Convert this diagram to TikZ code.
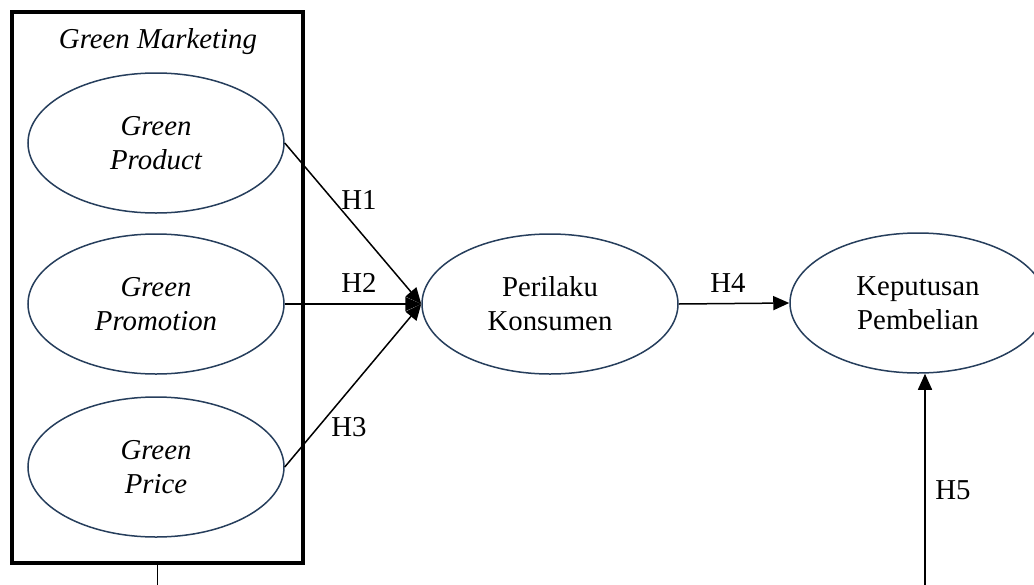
\documentclass[tikz,border=0pt]{standalone}
\usepackage{fontspec}
\setmainfont{Liberation Serif}
\usetikzlibrary{positioning, calc, arrows.meta, shapes.geometric}

\definecolor{ovalblue}{RGB}{38,62,92}

\begin{document}
\begin{tikzpicture}[
    x=0.5pt, y=-0.5pt,
    font=\fontsize{14.4}{17}\selectfont,
    construct/.style={ellipse, draw=ovalblue, line width=0.75pt, minimum width=128pt, minimum height=70pt, align=center, inner sep=0pt},
    frame/.style={rectangle, draw=black, line width=2pt, minimum width=145.5pt, minimum height=275.5pt},
    hlabel/.style={inner sep=0pt},
    arrow/.style={-{Triangle[length=8pt, width=7pt]}, line width=0.75pt}
]
    \useasboundingbox (0,0) rectangle (1034,584);

    % Green Marketing block
    \node[frame] (gm) at (157.5,287.5) {};
    \node[font=\fontsize{14.4}{17}\selectfont\itshape] (gmtitle) at (158,42) {Green Marketing};

    \node[construct, font=\fontsize{14.4}{17}\selectfont\itshape] (product) at (156,143) {Green\\Product};
    \node[construct, font=\fontsize{14.4}{17}\selectfont\itshape] (promotion) at (156,304) {Green\\Promotion};
    \node[construct, font=\fontsize{14.4}{17}\selectfont\itshape] (price) at (156,467) {Green\\Price};

    % Mediator and outcome
    \node[construct] (perilaku) at (550,304) {Perilaku\\Konsumen};
    \node[construct] (keputusan) at (918,303) {Keputusan\\Pembelian};

    % Arrows
    \draw[arrow] (product.east) -- (perilaku.west);
    \draw[arrow] (promotion.east) -- (perilaku.west);
    \draw[arrow] (price.east) -- (perilaku.west);
    \draw[arrow] (perilaku.east) -- (keputusan.west);
    \draw[arrow] (gm.south) -- ++(0,60) -| ([xshift=3.5pt]keputusan.south);

    % Labels
    \node[hlabel] (h1) at (359,200) {H1};
    \node[hlabel] (h2) at (359,283) {H2};
    \node[hlabel] (h3) at (349,427) {H3};
    \node[hlabel] (h4) at (728,283) {H4};
    \node[hlabel] (h5) at (953,490) {H5};

\end{tikzpicture}
\end{document}
